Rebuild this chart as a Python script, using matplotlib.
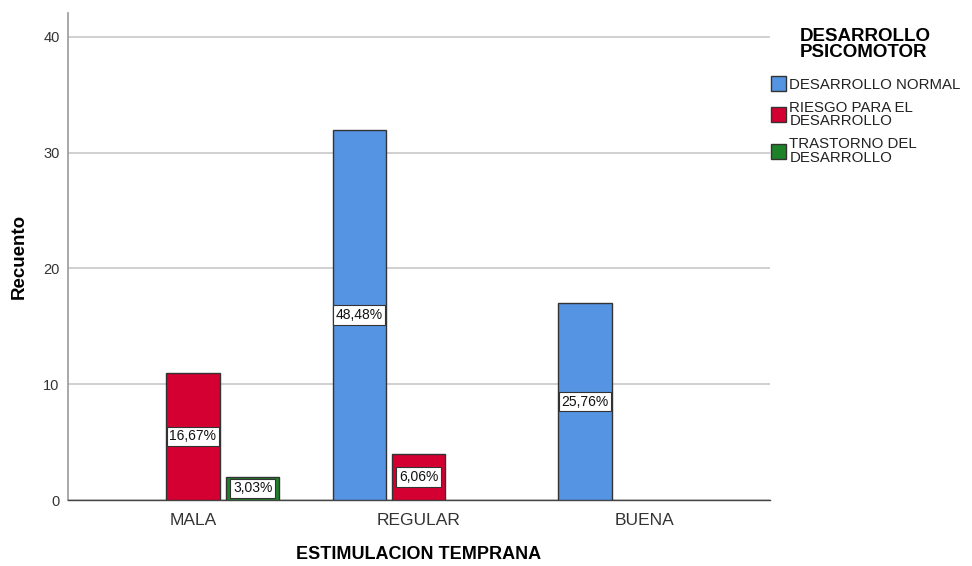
import numpy as np
import matplotlib
matplotlib.use("Agg")
import matplotlib.pyplot as plt

groups = ["MALA", "REGULAR", "BUENA"]
series = ["DESARROLLO NORMAL", "RIESGO PARA EL\nDESARROLLO", "TRASTORNO DEL\nDESARROLLO"]
counts = {
    "DESARROLLO NORMAL": [0, 32, 17],
    "RIESGO PARA EL\nDESARROLLO": [11, 4, 0],
    "TRASTORNO DEL\nDESARROLLO": [2, 0, 0],
}
pct_labels = {
    "DESARROLLO NORMAL": [None, "48,48%", "25,76%"],
    "RIESGO PARA EL\nDESARROLLO": ["16,67%", "6,06%", None],
    "TRASTORNO DEL\nDESARROLLO": ["3,03%", None, None],
}
colors = ["#5594E3", "#D50032", "#1E8229"]
yticks = [0, 10, 20, 30, 40]

plt.rcParams["font.family"] = ["Liberation Sans", "DejaVu Sans"]

fig = plt.figure(figsize=(9.72, 5.66), dpi=100)
ax = fig.add_axes([0.070, 0.1166, 0.722, 0.8604])

x = np.arange(len(groups))
width = 0.235
offsets = [-0.265, 0.0, 0.265]

for i, s in enumerate(series):
    vals = np.array(counts[s], dtype=float)
    keep = vals > 0
    bars = ax.bar(x[keep] + offsets[i], vals[keep], width, color=colors[i],
                  edgecolor="#333333", linewidth=1.0, zorder=3, label=s)
    labs = [l for l, k in zip(pct_labels[s], keep) if k]
    for b, v, lab in zip(bars, vals[keep], labs):
        if lab is None:
            continue
        ax.text(b.get_x() + b.get_width() / 2, v / 2, lab, ha="center", va="center",
                fontsize=10, color="#111111", zorder=4,
                bbox=dict(boxstyle="square,pad=0.2", fc="white", ec="#333333", lw=0.8))

ax.set_xlim(-0.553, 2.553)
ax.set_ylim(0, 42.07)
ax.set_yticks(yticks)
ax.set_yticklabels([str(t) for t in yticks], fontsize=10.5, color="#333333")
ax.set_xticks(x)
ax.set_xticklabels(groups, fontsize=12.5, color="#333333")
ax.tick_params(length=0, pad=6)
ax.tick_params(axis="x", pad=9)
ax.yaxis.grid(True, color="#C8C8C8", linewidth=1.2, zorder=0)
ax.set_axisbelow(True)
for sp in ("top", "right"):
    ax.spines[sp].set_visible(False)
ax.spines["left"].set_color("#999999")
ax.spines["left"].set_linewidth(1.2)
ax.spines["bottom"].set_color("#444444")
ax.spines["bottom"].set_linewidth(1.0)

ax.set_ylabel("Recuento", fontsize=13.5, fontweight="bold", labelpad=11)
ax.set_xlabel("ESTIMULACION TEMPRANA", fontsize=13, fontweight="bold", labelpad=13)

leg = ax.legend(loc="upper left", bbox_to_anchor=(1.001, 0.97), frameon=False,
                title="DESARROLLO\nPSICOMOTOR", fontsize=10.8,
                handlelength=1.0, handleheight=1.15, handletextpad=0.25,
                labelspacing=0.6, borderaxespad=0.0, borderpad=0.0)
leg.get_title().set_fontweight("bold")
leg.get_title().set_fontsize(13.5)
leg.get_title().set_linespacing(0.95)
leg._legend_box.align = "center"
leg._legend_box.sep = 11
for t in leg.get_texts():
    t.set_linespacing(0.95)
    t.set_color("#222222")
for h in leg.legend_handles:
    h.set_edgecolor("#333333")

fig.savefig("out.png", dpi=100)
